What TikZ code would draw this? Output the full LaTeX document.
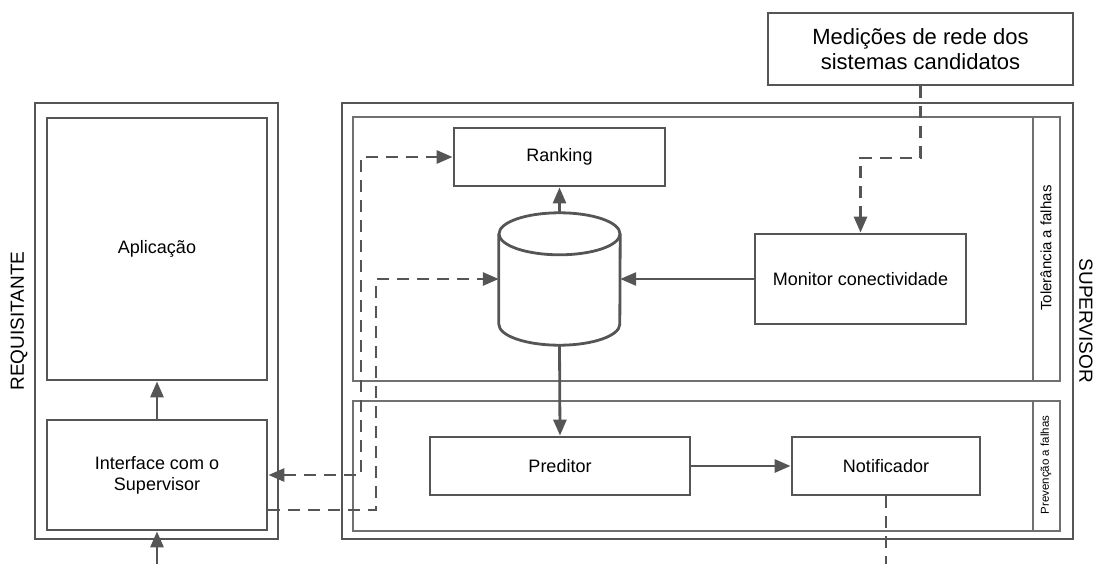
\documentclass[tikz,border=0pt]{standalone}
\usepackage{fontspec}
\setmainfont{Liberation Sans}
\usepackage{tikz}
\usetikzlibrary{arrows.meta,positioning,calc,fit}
\definecolor{linegray}{HTML}{555555}
\definecolor{zonegray}{HTML}{707070}
\newcommand{\boxfont}{\fontsize{18}{21}\selectfont}

\begin{document}
\begin{tikzpicture}[x=1pt,y=-1pt,>={Triangle[length=16pt,width=13pt]},
  box/.style={draw=linegray,line width=2.8pt,inner sep=0pt,align=center,font=\boxfont},
  zone/.style={draw=zonegray,line width=1.6pt,inner sep=0pt},
  arr/.style={draw=linegray,line width=2.8pt,->},
  darr/.style={arr,dash pattern=on 12pt off 8pt}]
\useasboundingbox (0,0) rectangle (1094,564);

\node[box,minimum width=243,minimum height=436] (req) at (156.5,321) {};
\node[rotate=90,font=\fontsize{19}{22}\selectfont] (reqlbl) at (19,321) {REQUISITANTE};
\node[box,minimum width=220,minimum height=262] (app) at (157,249) {Aplica\c{c}\~ao};
\node[box,minimum width=220,minimum height=110] (iface) at (157,475) {Interface com o\\Supervisor};

\node[box,minimum width=731,minimum height=436] (sup) at (707.5,321) {};
\node[rotate=-90,font=\fontsize{19}{22}\selectfont] (suplbl) at (1086,321) {SUPERVISOR};
\node[zone,minimum width=707,minimum height=264] (tol) at (706.5,249) {};
\node[zone,minimum width=707,minimum height=130] (prev) at (706.5,466) {};
\draw[zonegray,line width=1.6pt] ($(tol.north east)+(-28,0)$) -- ($(tol.south east)+(-28,0)$);
\draw[zonegray,line width=1.6pt] ($(prev.north east)+(-28,0)$) -- ($(prev.south east)+(-28,0)$);
\node[rotate=90,font=\fontsize{15}{17}\selectfont] (tollbl) at (1046,248) {Toler\^ancia a falhas};
\node[rotate=90,font=\fontsize{11.5}{13}\selectfont] (prevlbl) at (1046,465) {Preven\c{c}\~ao a falhas};

\node[box,minimum width=305,minimum height=72,font=\fontsize{22}{25}\selectfont] (med) at (920.5,49) {Medi\c{c}\~oes de rede dos\\sistemas candidatos};
\node[box,minimum width=211,minimum height=58] (rank) at (559.5,157) {Ranking};
\node[box,minimum width=211,minimum height=90] (mon) at (860.5,279) {Monitor conectividade};
\node[box,minimum width=260,minimum height=58] (pred) at (560,466) {Preditor};
\node[box,minimum width=188,minimum height=58] (notif) at (886,466) {Notificador};

\node[minimum width=121,minimum height=132,inner sep=0pt] (db) at (559.5,279) {};
\draw[linegray,line width=2.8pt] ($(db.north)+(0,21)$) ellipse [x radius=60.5pt,y radius=21pt];
\draw[linegray,line width=2.8pt] ($(db.north west)+(0,21)$) -- ($(db.south west)+(0,-21)$)
  arc[start angle=180,end angle=360,x radius=60.5pt,y radius=21pt] -- ($(db.north east)+(0,21)$);

\coordinate (jr) at (361,157);
\coordinate (jd) at (376,279);
\coordinate (jm) at (860.5,158);
\coordinate (iin) at (157,564);
\coordinate (nout) at (886,564);

\draw[arr] (iin) -- (iface.south);
\draw[arr] (iface.north) -- (app.south);
\draw[arr] (db.north) -- (rank.south);
\draw[arr] (db.south) -- (pred.north);
\draw[arr] (mon.west) -- (db.east);
\draw[arr] (pred.east) -- (notif.west);

\draw[darr,<->] (iface.east) -| (jr) -- (rank.west);
\draw[darr] ($(iface.east)+(0,35)$) -| (jd) -- (db.west);
\draw[darr] (med.south) |- (jm) -- (mon.north);
\draw[darr,-] (notif.south) -- (nout);
\end{tikzpicture}
\end{document}
